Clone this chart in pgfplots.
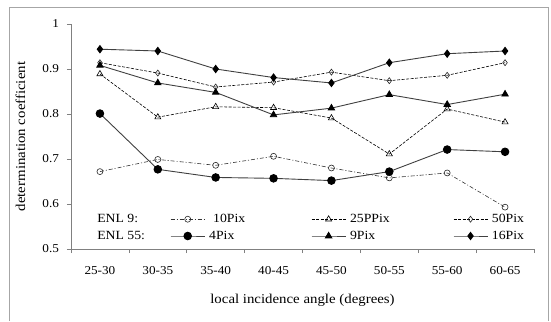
\documentclass[border=0pt]{standalone}
\usepackage{fontspec}
\setmainfont[FakeStretch=1.1]{Liberation Serif}
\usepackage{pgfplots}
\pgfplotsset{compat=1.18}
\begin{document}
\begin{tikzpicture}
\path (-71pt,-71pt) rectangle (480pt,249pt);
\draw[gray!70, line width=0.6pt] (-62pt,-72pt) -- (-62pt,242pt) -- (477pt,242pt) -- (477pt,-72pt);
\begin{axis}[
  at={(0pt,0pt)}, anchor=south west,
  scale only axis, width=463pt, height=225pt,
  xmin=-0.5, xmax=7.5, ymin=0.5, ymax=1,
  axis x line*=bottom, axis y line*=left,
  axis line style={gray, line width=0.6pt, -},
  xtick={0,1,2,3,4,5,6,7},
  xticklabels={25-30,30-35,35-40,40-45,45-50,50-55,55-60,60-65},
  major x tick style={draw=none},
  minor xtick={-0.5,0.5,1.5,2.5,3.5,4.5,5.5,6.5,7.5},
  tick align=outside, major tick length=4pt, minor tick length=4pt,
  tick style={gray, line width=0.6pt},
  ytick={0.5,0.6,0.7,0.8,0.9,1},
  /pgf/number format/assume math mode=true,
  yticklabel style={/pgf/number format/fixed, /pgf/number format/precision=1, font=\fontsize{12}{14}\selectfont, xshift=-4.5pt},
  xticklabel style={font=\fontsize{12}{14}\selectfont, yshift=-10pt},
  ylabel={determination coefficient},
  xlabel={local incidence angle (degrees)},
  label style={font=\fontsize{13.5}{16}\selectfont},
  ylabel style={at={(axis description cs:-0.109,0.5)}, anchor=center},
  xlabel style={at={(axis description cs:0.5,-0.227)}, anchor=center},
  legend columns=4,
  legend style={at={(axis description cs:0.052,0.164)}, anchor=north west, draw=none, fill=none,
    inner sep=0pt, column sep=0pt, row sep=3pt, font=\fontsize{12.5}{15}\selectfont,
    cells={anchor=west}},
  legend image code/.code={\draw[mark repeat=2,mark phase=2,#1] plot coordinates {(0pt,0pt) (17pt,0pt) (34pt,0pt)};},
  clip=false,
]
\addlegendimage{empty legend}
\addlegendentry{\makebox[71pt][l]{ENL 9:}}
\addplot[black!80, line width=0.6pt, dash pattern=on 4pt off 2pt on 1pt off 2pt,
  mark=o, mark size=3pt, mark options={solid, draw=black!85, fill=white}]
  coordinates {(0,0.672) (1,0.699) (2,0.686) (3,0.706) (4,0.680) (5,0.658) (6,0.669) (7,0.593)};
\addlegendentry{\makebox[102pt][l]{\hspace{6pt}10Pix}}
\addplot[black, line width=0.6pt, dash pattern=on 3pt off 1.5pt,
  mark=triangle, mark size=3.5pt, mark options={solid, draw=black, fill=white}]
  coordinates {(0,0.889) (1,0.793) (2,0.816) (3,0.814) (4,0.791) (5,0.711) (6,0.811) (7,0.782)};
\addlegendentry{\makebox[103pt][l]{\hspace{2pt}25PPix}}
\addplot[black, line width=0.6pt, dash pattern=on 3pt off 1.5pt,
  mark=diamond, mark size=3pt, mark options={solid, draw=black!85, fill=white}]
  coordinates {(0,0.914) (1,0.891) (2,0.860) (3,0.871) (4,0.893) (5,0.874) (6,0.886) (7,0.914)};
\addlegendentry{\hspace{2pt}50Pix}
\addlegendimage{empty legend}
\addlegendentry{\makebox[71pt][l]{ENL 55:}}
\addplot[black!75, line width=0.9pt,
  mark=*, mark size=3.8pt, mark options={solid, draw=black, fill=black}]
  coordinates {(0,0.801) (1,0.677) (2,0.659) (3,0.657) (4,0.652) (5,0.672) (6,0.721) (7,0.716)};
\addlegendentry{\makebox[102pt][l]{\hspace{2pt}4Pix}}
\addplot[black!75, line width=0.9pt,
  mark=triangle*, mark size=3.6pt, mark options={solid, draw=black, fill=black}]
  coordinates {(0,0.908) (1,0.869) (2,0.848) (3,0.798) (4,0.813) (5,0.843) (6,0.821) (7,0.844)};
\addlegendentry{\makebox[103pt][l]{\hspace{2pt}9Pix}}
\addplot[black!75, line width=0.9pt,
  mark=diamond*, mark size=3.6pt, mark options={solid, draw=black, fill=black}]
  coordinates {(0,0.944) (1,0.940) (2,0.900) (3,0.881) (4,0.869) (5,0.914) (6,0.934) (7,0.940)};
\addlegendentry{\hspace{2pt}16Pix}
\end{axis}
\end{tikzpicture}
\end{document}
